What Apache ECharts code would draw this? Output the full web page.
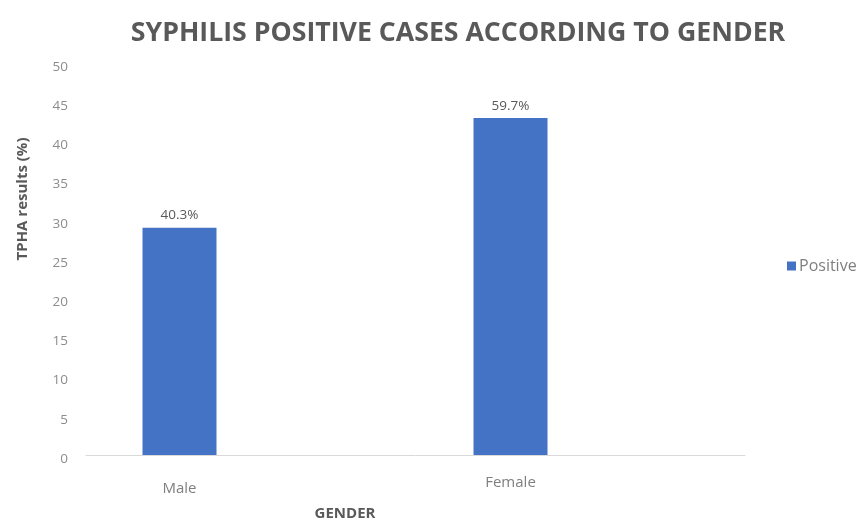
<!DOCTYPE html>
<html>
<head>
<meta charset="utf-8">
<script src="https://cdn.jsdelivr.net/npm/echarts@6/dist/echarts.min.js"></script>
<style>
  html, body { margin: 0; padding: 0; background: #ffffff; }
  #chart { width: 868px; height: 523px; }
</style>
</head>
<body>
<div id="chart"></div>
<script>
// Positive TPHA cases by gender
const categories = ['Male', 'Female'];
const positiveCases = [29, 43];
const yTicks = [0, 5, 10, 15, 20, 25, 30, 35, 40, 45, 50];

const total = positiveCases.reduce((a, b) => a + b, 0);
const FONT = '"Open Sans", "Liberation Sans", sans-serif';
const TEXT = '#595959';

// category labels sit slightly staggered below the baseline
const labelOffsets = [6, -2];

const chart = echarts.init(document.getElementById('chart'));
chart.setOption({
  backgroundColor: '#ffffff',
  animation: false,
  title: {
    text: 'SYPHILIS POSITIVE CASES ACCORDING TO GENDER',
    left: 453,
    textAlign: 'center',
    top: 15,
    textStyle: { fontFamily: FONT, fontSize: 26.7, fontWeight: 'bold', color: TEXT }
  },
  legend: {
    orient: 'vertical',
    left: 782,
    top: 253,
    itemWidth: 9,
    itemHeight: 9,
    itemGap: 4,
    icon: 'rect',
    textStyle: { fontFamily: FONT, fontSize: 16, color: '#7f7f7f', padding: [0, 0, 0, -2] },
    data: ['Positive']
  },
  grid: [
    // axes frame: value labels and baseline
    { left: 86, right: 123, top: 63, bottom: 68, containLabel: false, outerBoundsMode: 'none' },
    // category bands for the bars
    { left: 14, width: 662, top: 63, bottom: 68, containLabel: false, outerBoundsMode: 'none' }
  ],
  xAxis: [
    {
      gridIndex: 0,
      type: 'category',
      data: [''],
      axisLine: { show: true, lineStyle: { color: '#d9d9d9', width: 1 } },
      axisTick: { show: false },
      axisLabel: { show: false }
    },
    {
      gridIndex: 1,
      type: 'category',
      data: categories.map((c, i) => ({
        value: c,
        textStyle: { padding: [Math.max(labelOffsets[i], 0), 0, Math.max(-labelOffsets[i], 0), 0] }
      })),
      axisLine: { show: false },
      axisTick: { show: false },
      axisLabel: { margin: 20, fontFamily: FONT, fontSize: 15, color: '#7f7f7f' },
      name: 'GENDER',
      nameLocation: 'middle',
      nameGap: 51,
      nameTextStyle: { fontFamily: FONT, fontSize: 15, fontWeight: 'bold', color: TEXT }
    }
  ],
  yAxis: [
    {
      gridIndex: 0,
      type: 'value',
      min: yTicks[0],
      max: yTicks[yTicks.length - 1],
      interval: yTicks[1] - yTicks[0],
      axisLine: { show: false },
      axisTick: { show: false },
      splitLine: { show: false },
      axisLabel: {
        margin: 18, fontFamily: FONT, fontSize: 13.5, color: '#8c8c8c',
        verticalAlign: 'top', lineHeight: 8
      },
      name: 'TPHA results (%)',
      nameLocation: 'middle',
      nameGap: 56,
      nameTextStyle: { fontFamily: FONT, fontSize: 15, fontWeight: 'bold', color: TEXT, padding: [0, 0, 0, 120] }
    },
    {
      gridIndex: 1,
      type: 'value',
      min: yTicks[0],
      max: yTicks[yTicks.length - 1],
      show: false
    }
  ],
  series: [
    {
      name: 'Positive',
      type: 'bar',
      xAxisIndex: 1,
      yAxisIndex: 1,
      data: positiveCases,
      barWidth: 74,
      itemStyle: { color: '#4472C4' },
      label: {
        show: true,
        position: 'top',
        distance: 5,
        fontFamily: FONT,
        fontSize: 13.5,
        color: TEXT,
        formatter: p => (p.value / total * 100).toFixed(1) + '%'
      }
    }
  ]
});
</script>
</body>
</html>
